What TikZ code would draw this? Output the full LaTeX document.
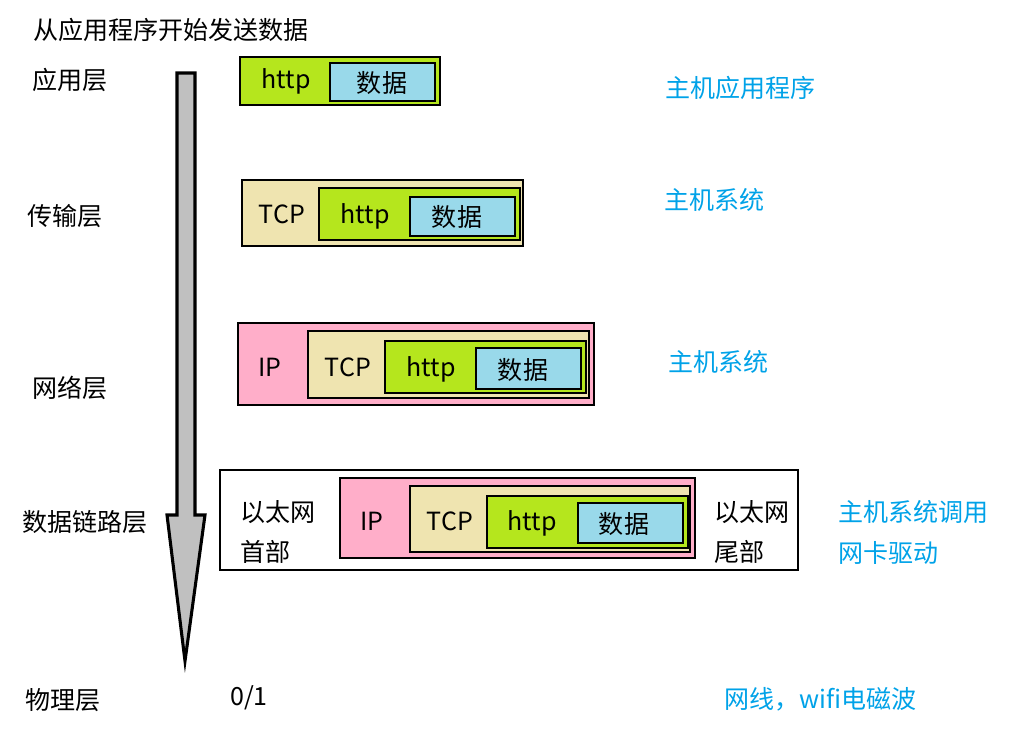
\documentclass[tikz,border=0pt]{standalone}
\usepackage{fontspec}
\setmainfont{Noto Sans CJK SC}
\usetikzlibrary{positioning}

\definecolor{httpgreen}{RGB}{181,230,29}
\definecolor{datablue}{RGB}{153,217,234}
\definecolor{tcptan}{RGB}{239,228,176}
\definecolor{ippink}{RGB}{255,174,201}
\definecolor{arrowgray}{RGB}{192,192,192}
\definecolor{notecyan}{RGB}{0,162,232}

\tikzset{
  pkt/.style={draw=black, line width=0.9pt},
  txt/.style={inner sep=0pt, font=\fontsize{17.8}{21}\selectfont},
  note/.style={txt, text=notecyan, anchor=west},
  layer/.style={txt, anchor=west}
}

\begin{document}
\begin{tikzpicture}[x=0.025cm, y=-0.025cm]
            \useasboundingbox (0,0) rectangle (1012,736);
            % big downward arrow
            \draw[line width=2.2pt, fill=arrowgray, line join=miter]
                (177,73)--(195,73)--(195,515)--(205,515)--(185,661)--(167,515)--(177,515)--cycle;
            \node[layer] (title) at (33,30) {从应用程序开始发送数据};
            \node[layer] (app) at (32,80) {应用层};
            \node[layer] (trans) at (27,216) {传输层};
            \node[layer] (net) at (32,388) {网络层};
            \node[layer] (link) at (22,522) {数据链路层};
            \node[layer] (phys) at (25,700) {物理层};
            \node[layer] (bits) at (230,698) {0/1};
            % application layer
            \draw[pkt, fill=httpgreen] (240,57) rectangle (440,105);
            \draw[pkt, fill=datablue] (330,63) rectangle (435,101);
            \node[txt] (http1) at (286,81) {http};
            \node[txt] (data1) at (382,83) {数据};
            % transport layer
            \draw[pkt, fill=tcptan] (242,180) rectangle (523,246);
            \draw[pkt, fill=httpgreen] (319,188) rectangle (520,240);
            \draw[pkt, fill=datablue] (410,197) rectangle (515,236);
            \node[txt] (tcp2) at (282,214) {TCP};
            \node[txt] (http2) at (365,216) {http};
            \node[txt] (data2) at (457,217) {数据};
            % network layer
            \draw[pkt, fill=ippink] (238,323) rectangle (594,405);
            \draw[pkt, fill=tcptan] (308,331) rectangle (589,398);
            \draw[pkt, fill=httpgreen] (385,341) rectangle (586,393);
            \draw[pkt, fill=datablue] (476,348) rectangle (581,389);
            \node[txt] (ip3) at (270,367) {IP};
            \node[txt] (tcp3) at (348,367) {TCP};
            \node[txt] (http3) at (431,369) {http};
            \node[txt] (data3) at (523,370) {数据};
            % data link layer
            \draw[pkt, fill=white] (220,470) rectangle (798,570);
            \draw[pkt, fill=ippink] (340,478) rectangle (695,558);
            \draw[pkt, fill=tcptan] (410,486) rectangle (690,552);
            \draw[pkt, fill=httpgreen] (487,496) rectangle (688,548);
            \draw[pkt, fill=datablue] (578,503) rectangle (683,543);
            \node[txt] (ip4) at (372,521) {IP};
            \node[txt] (tcp4) at (450,521) {TCP};
            \node[txt] (http4) at (532,523) {http};
            \node[txt] (data4) at (624,524) {数据};
            \node[layer] (head1) at (240,512) {以太网};
            \node[layer] (head2) at (240,552) {首部};
            \node[layer] (tail1) at (714,512) {以太网};
            \node[layer] (tail2) at (714,552) {尾部};
            % notes on the right
            \node[note] (n1) at (665,88) {主机应用程序};
            \node[note] (n2) at (664,200) {主机系统};
            \node[note] (n3) at (668,362) {主机系统};
            \node[note] (n4a) at (838,512) {主机系统调用};
            \node[note] (n4b) at (838,553) {网卡驱动};
            \node[note] (n5) at (724,699) {网线，wifi电磁波};
        \end{tikzpicture}
\end{document}
